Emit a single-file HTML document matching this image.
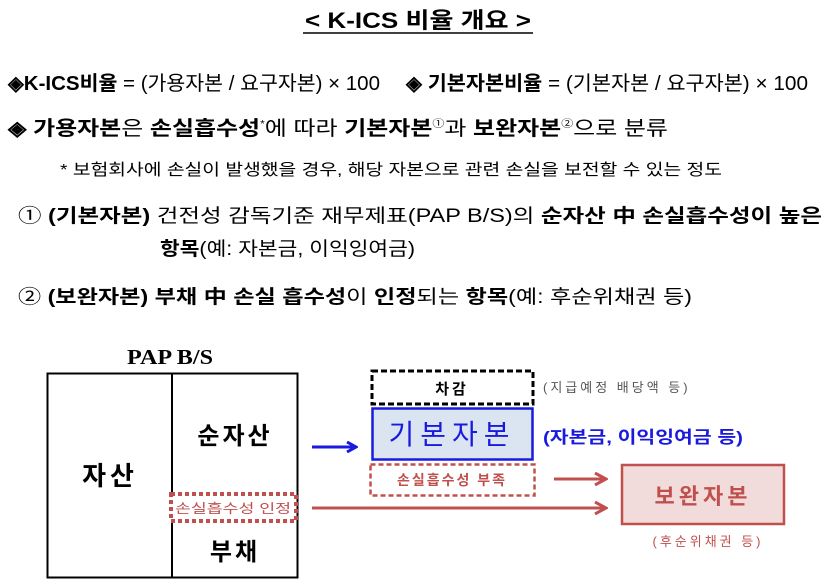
<!DOCTYPE html>
<html><head><meta charset="utf-8"><style>
html,body{margin:0;padding:0;background:#fff;width:830px;height:583px;overflow:hidden}
svg{display:block}
text{font-family:"Liberation Sans","Noto Sans CJK KR",sans-serif}
.s{font-family:"Liberation Serif","Noto Serif CJK SC","Noto Sans CJK KR",serif}
</style></head><body>
<svg width="830" height="583" viewBox="0 0 830 583" xmlns="http://www.w3.org/2000/svg">
<defs>
<marker id="ab" markerWidth="12" markerHeight="12" refX="10" refY="6" orient="auto" markerUnits="userSpaceOnUse"><path d="M1,1 L10,6 L1,11" fill="none" stroke="#1a1adf" stroke-width="3"/></marker>
<marker id="ar" markerWidth="14" markerHeight="14" refX="12" refY="7" orient="auto" markerUnits="userSpaceOnUse"><path d="M1,1 L12,7 L1,13" fill="none" stroke="#c0504d" stroke-width="3"/></marker>
</defs>
<text x="305" y="28" font-size="22" font-weight="bold" textLength="226" lengthAdjust="spacingAndGlyphs">&lt; K-ICS 비율 개요 &gt;</text>
<line x1="303" y1="33" x2="533" y2="33" stroke="#000" stroke-width="1.5"/>
<text x="8" y="90" font-size="20" textLength="372" lengthAdjust="spacingAndGlyphs"><tspan font-weight="bold">◈K-ICS비율</tspan> = (가용자본 / 요구자본) × 100</text>
<text x="406" y="90" font-size="20" textLength="402" lengthAdjust="spacingAndGlyphs"><tspan font-weight="bold">◈ 기본자본비율</tspan> = (기본자본 / 요구자본) × 100</text>
<text x="8" y="135" font-size="20" textLength="660" lengthAdjust="spacingAndGlyphs"><tspan font-weight="bold">◈ 가용자본</tspan>은 <tspan font-weight="bold">손실흡수성</tspan><tspan font-size="10" dy="-8">*</tspan><tspan dy="8">에 따라 </tspan><tspan font-weight="bold">기본자본</tspan><tspan font-size="10" dy="-8">①</tspan><tspan dy="8">과 </tspan><tspan font-weight="bold">보완자본</tspan><tspan font-size="10" dy="-8">②</tspan><tspan dy="8">으로 분류</tspan></text>
<text x="60" y="175" font-size="16" textLength="662" lengthAdjust="spacingAndGlyphs">* 보험회사에 손실이 발생했을 경우, 해당 자본으로 관련 손실을 보전할 수 있는 정도</text>
<text x="18" y="222" font-size="19" textLength="804" lengthAdjust="spacingAndGlyphs">①  <tspan font-weight="bold">(기본자본)</tspan> 건전성 감독기준 재무제표(PAP B/S)의 <tspan font-weight="bold">순자산 中 손실흡수성이 높은</tspan></text>
<text x="160" y="255" font-size="19" textLength="255" lengthAdjust="spacingAndGlyphs"><tspan font-weight="bold">항목</tspan>(예: 자본금, 이익잉여금)</text>
<text x="18" y="303" font-size="19" textLength="674" lengthAdjust="spacingAndGlyphs">②  <tspan font-weight="bold">(보완자본) 부채 中 손실 흡수성</tspan>이 <tspan font-weight="bold">인정</tspan>되는 <tspan font-weight="bold">항목</tspan>(예: 후순위채권 등)</text>

<text x="127" y="364" class="s" font-size="21" font-weight="bold" textLength="86" lengthAdjust="spacingAndGlyphs">PAP B/S</text>
<rect x="47.5" y="373.5" width="250" height="204" fill="none" stroke="#000" stroke-width="2"/>
<line x1="172" y1="374" x2="172" y2="578" stroke="#000" stroke-width="2"/>
<text x="110" y="485" font-size="26" font-weight="bold" text-anchor="middle" letter-spacing="4">자산</text>
<text x="235" y="444" font-size="24" font-weight="bold" text-anchor="middle" letter-spacing="3">순자산</text>
<text x="235" y="560" font-size="24" font-weight="bold" text-anchor="middle" letter-spacing="3">부채</text>
<rect x="171" y="494" width="125" height="27" fill="#fff" stroke="#c0504d" stroke-width="4" stroke-dasharray="4,3"/>
<text x="233" y="513" font-size="13" fill="#c0504d" text-anchor="middle" textLength="116" lengthAdjust="spacingAndGlyphs">손실흡수성 인정</text>

<line x1="312" y1="447" x2="356" y2="447" stroke="#1a1adf" stroke-width="3" marker-end="url(#ab)"/>
<line x1="312" y1="508" x2="606" y2="508" stroke="#c0504d" stroke-width="3" marker-end="url(#ar)"/>
<line x1="554" y1="479" x2="606" y2="479" stroke="#c0504d" stroke-width="3" marker-end="url(#ar)"/>

<rect x="372" y="371" width="161" height="33" fill="#fff" stroke="#000" stroke-width="3" stroke-dasharray="6,3"/>
<text x="452" y="394" font-size="15" font-weight="bold" text-anchor="middle" letter-spacing="3">차감</text>
<text x="543" y="392" font-size="13" fill="#555" letter-spacing="3">(지급예정 배당액 등)</text>
<rect x="372.5" y="408.5" width="160" height="51" fill="#dbe5f1" stroke="#1a1adf" stroke-width="2.5"/>
<text x="452" y="444" font-size="28" fill="#1a1adf" text-anchor="middle" letter-spacing="6">기본자본</text>
<text x="543" y="443" font-size="17" font-weight="bold" fill="#1a1adf" textLength="200" lengthAdjust="spacingAndGlyphs">(자본금, 이익잉여금 등)</text>
<rect x="370.5" y="464.5" width="164" height="31" fill="#fff" stroke="#c0504d" stroke-width="2.5" stroke-dasharray="5,3"/>
<text x="452" y="485" font-size="14" font-weight="bold" fill="#c0504d" text-anchor="middle" letter-spacing="2">손실흡수성 부족</text>
<rect x="622" y="465" width="162" height="59" fill="#f2dcdb" stroke="#c0504d" stroke-width="2.5"/>
<text x="703" y="504" font-size="22" font-weight="bold" fill="#c0504d" text-anchor="middle" letter-spacing="4">보완자본</text>
<text x="708" y="546" font-size="13" fill="#c0504d" text-anchor="middle" letter-spacing="3">(후순위채권 등)</text>
</svg>
</body></html>
